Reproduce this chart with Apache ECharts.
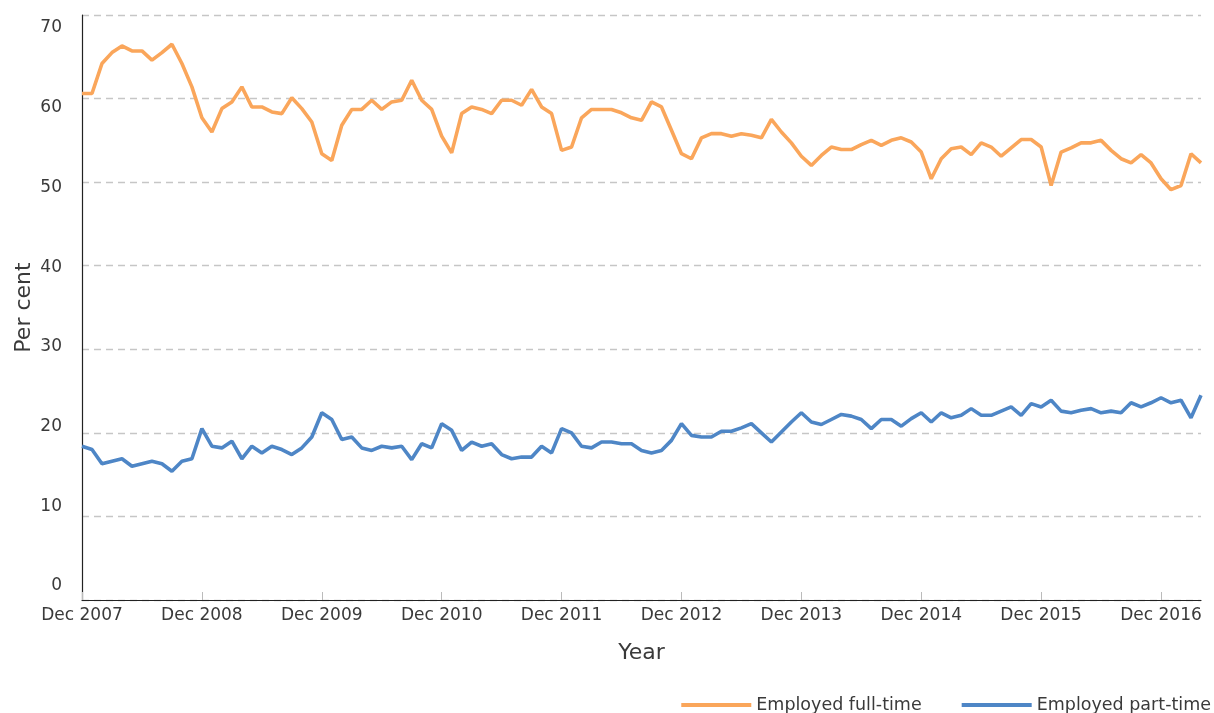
<!DOCTYPE html>
<html>
<head>
<meta charset="utf-8">
<script src="https://cdn.jsdelivr.net/npm/echarts@6/dist/echarts.min.js"></script>
<style>
  html, body { margin: 0; padding: 0; background: #fff; }
  #chart { width: 1214px; height: 713px; }
</style>
</head>
<body>
<div id="chart"></div>
<script>
// monthly, Dec 2007 .. Apr 2017
const monthNames = ["Jan", "Feb", "Mar", "Apr", "May", "Jun", "Jul", "Aug", "Sep", "Oct", "Nov", "Dec"];
const startYear = 2007;
const startMonth = 11; // Dec
const pointCount = 113;

const fullTime = [
  60.6, 60.6, 64.2, 65.5, 66.3, 65.7, 65.7, 64.6, 65.5, 66.5, 64.2, 61.4,
  57.7, 56.0, 58.8, 59.6, 61.4, 59.0, 59.0, 58.4, 58.2, 60.1, 58.8, 57.2,
  53.4, 52.6, 56.8, 58.7, 58.7, 59.8, 58.7, 59.6, 59.8, 62.2, 59.8, 58.7,
  55.5, 53.5, 58.2, 59.0, 58.7, 58.2, 59.8, 59.8, 59.2, 61.1, 59.0, 58.2,
  53.8, 54.2, 57.7, 58.7, 58.7, 58.7, 58.3, 57.7, 57.4, 59.6, 59.0, 56.2,
  53.4, 52.8, 55.3, 55.8, 55.8, 55.5, 55.8, 55.6, 55.3, 57.5, 56.0, 54.7,
  53.1, 52.0, 53.2, 54.2, 53.9, 53.9, 54.5, 55.0, 54.4, 55.0, 55.3, 54.8,
  53.6, 50.4, 52.8, 54.0, 54.2, 53.3, 54.7, 54.2, 53.1, 54.1, 55.1, 55.1,
  54.2, 49.6, 53.6, 54.1, 54.7, 54.7, 55.0, 53.8, 52.8, 52.3, 53.3, 52.3,
  50.4, 49.1, 49.6, 53.4, 52.3
];

const partTime = [
  18.4, 18.0, 16.3, 16.6, 16.9, 16.0, 16.3, 16.6, 16.3, 15.4, 16.6, 16.9,
  20.5, 18.4, 18.2, 19.0, 16.9, 18.4, 17.6, 18.4, 18.0, 17.4, 18.2, 19.5,
  22.4, 21.6, 19.2, 19.5, 18.2, 17.9, 18.4, 18.2, 18.4, 16.8, 18.7, 18.2,
  21.1, 20.3, 17.9, 18.9, 18.4, 18.7, 17.4, 16.9, 17.1, 17.1, 18.4, 17.6,
  20.5, 20.0, 18.4, 18.2, 18.9, 18.9, 18.7, 18.7, 17.9, 17.6, 17.9, 19.1,
  21.1, 19.7, 19.5, 19.5, 20.2, 20.2, 20.6, 21.1, 20.0, 18.9, 20.1, 21.3,
  22.4, 21.3, 21.0, 21.6, 22.2, 22.0, 21.6, 20.5, 21.6, 21.6, 20.8, 21.7,
  22.4, 21.3, 22.4, 21.8, 22.1, 22.9, 22.1, 22.1, 22.6, 23.1, 22.1, 23.5,
  23.1, 23.9, 22.6, 22.4, 22.7, 22.9, 22.4, 22.6, 22.4, 23.6, 23.1, 23.6,
  24.2, 23.6, 23.9, 21.8, 24.5
];

const categories = [];
for (let i = 0; i < pointCount; i++) {
  const m = startMonth + i;
  categories.push(monthNames[m % 12] + " " + (startYear + Math.floor(m / 12)));
}

const font = "DejaVu Sans";
const textColor = "#3a3a3a";

const chart = echarts.init(document.getElementById("chart"));
chart.setOption({
  animation: false,
  textStyle: { fontFamily: font },
  grid: [
    { left: 82, right: 13, top: 15, bottom: 113, outerBoundsMode: "none" },
    // second grid only carries the y labels (they sit a bit inside the gridlines in the original)
    { left: 80, right: 13, top: 28, bottom: 127, outerBoundsMode: "none" }
  ],
  legend: {
    right: -2,
    bottom: -6,
    itemWidth: 70,
    itemHeight: 4,
    itemGap: 40,
    icon: "rect",
    textStyle: { fontFamily: font, fontSize: 17.5, color: textColor },
    data: ["Employed full-time", "Employed part-time"]
  },
  xAxis: [
    {
      type: "category",
      gridIndex: 0,
      data: categories,
      boundaryGap: false,
      name: "Year",
      nameLocation: "middle",
      nameGap: 42,
      nameTextStyle: { fontSize: 22, color: textColor, fontFamily: font },
      axisLine: { lineStyle: { color: "#222", width: 1.2 } },
      axisTick: { interval: 11, inside: true, length: 8, lineStyle: { color: "#bbb" } },
      axisLabel: { interval: 11, fontSize: 17, color: textColor, margin: 7, fontFamily: font }
    },
    { type: "value", gridIndex: 1, show: false, min: 0, max: 1 }
  ],
  yAxis: [
    {
      type: "value",
      gridIndex: 0,
      min: 0,
      max: 70,
      interval: 10,
      name: "Per cent",
      nameLocation: "middle",
      nameGap: 47,
      nameTextStyle: { fontSize: 22, color: textColor, fontFamily: font },
      axisLine: { show: true, lineStyle: { color: "#222", width: 1.2 } },
      axisTick: { show: false },
      axisLabel: { show: false },
      splitLine: { lineStyle: { color: "#c6c6c6", type: [7, 5], width: 1.3 } }
    },
    {
      type: "value",
      gridIndex: 1,
      min: 0,
      max: 70,
      interval: 10,
      axisLine: { show: false },
      axisTick: { show: false },
      splitLine: { show: false },
      axisLabel: { fontSize: 17, color: textColor, margin: 18, fontFamily: font }
    }
  ],
  series: [
    {
      name: "Employed full-time",
      type: "line",
      data: fullTime,
      symbol: "none",
      lineStyle: { color: "#FAA65B", width: 3.6 },
      itemStyle: { color: "#FAA65B" }
    },
    {
      name: "Employed part-time",
      type: "line",
      data: partTime,
      symbol: "none",
      lineStyle: { color: "#4E86C6", width: 3.6 },
      itemStyle: { color: "#4E86C6" }
    }
  ]
});
</script>
</body>
</html>
